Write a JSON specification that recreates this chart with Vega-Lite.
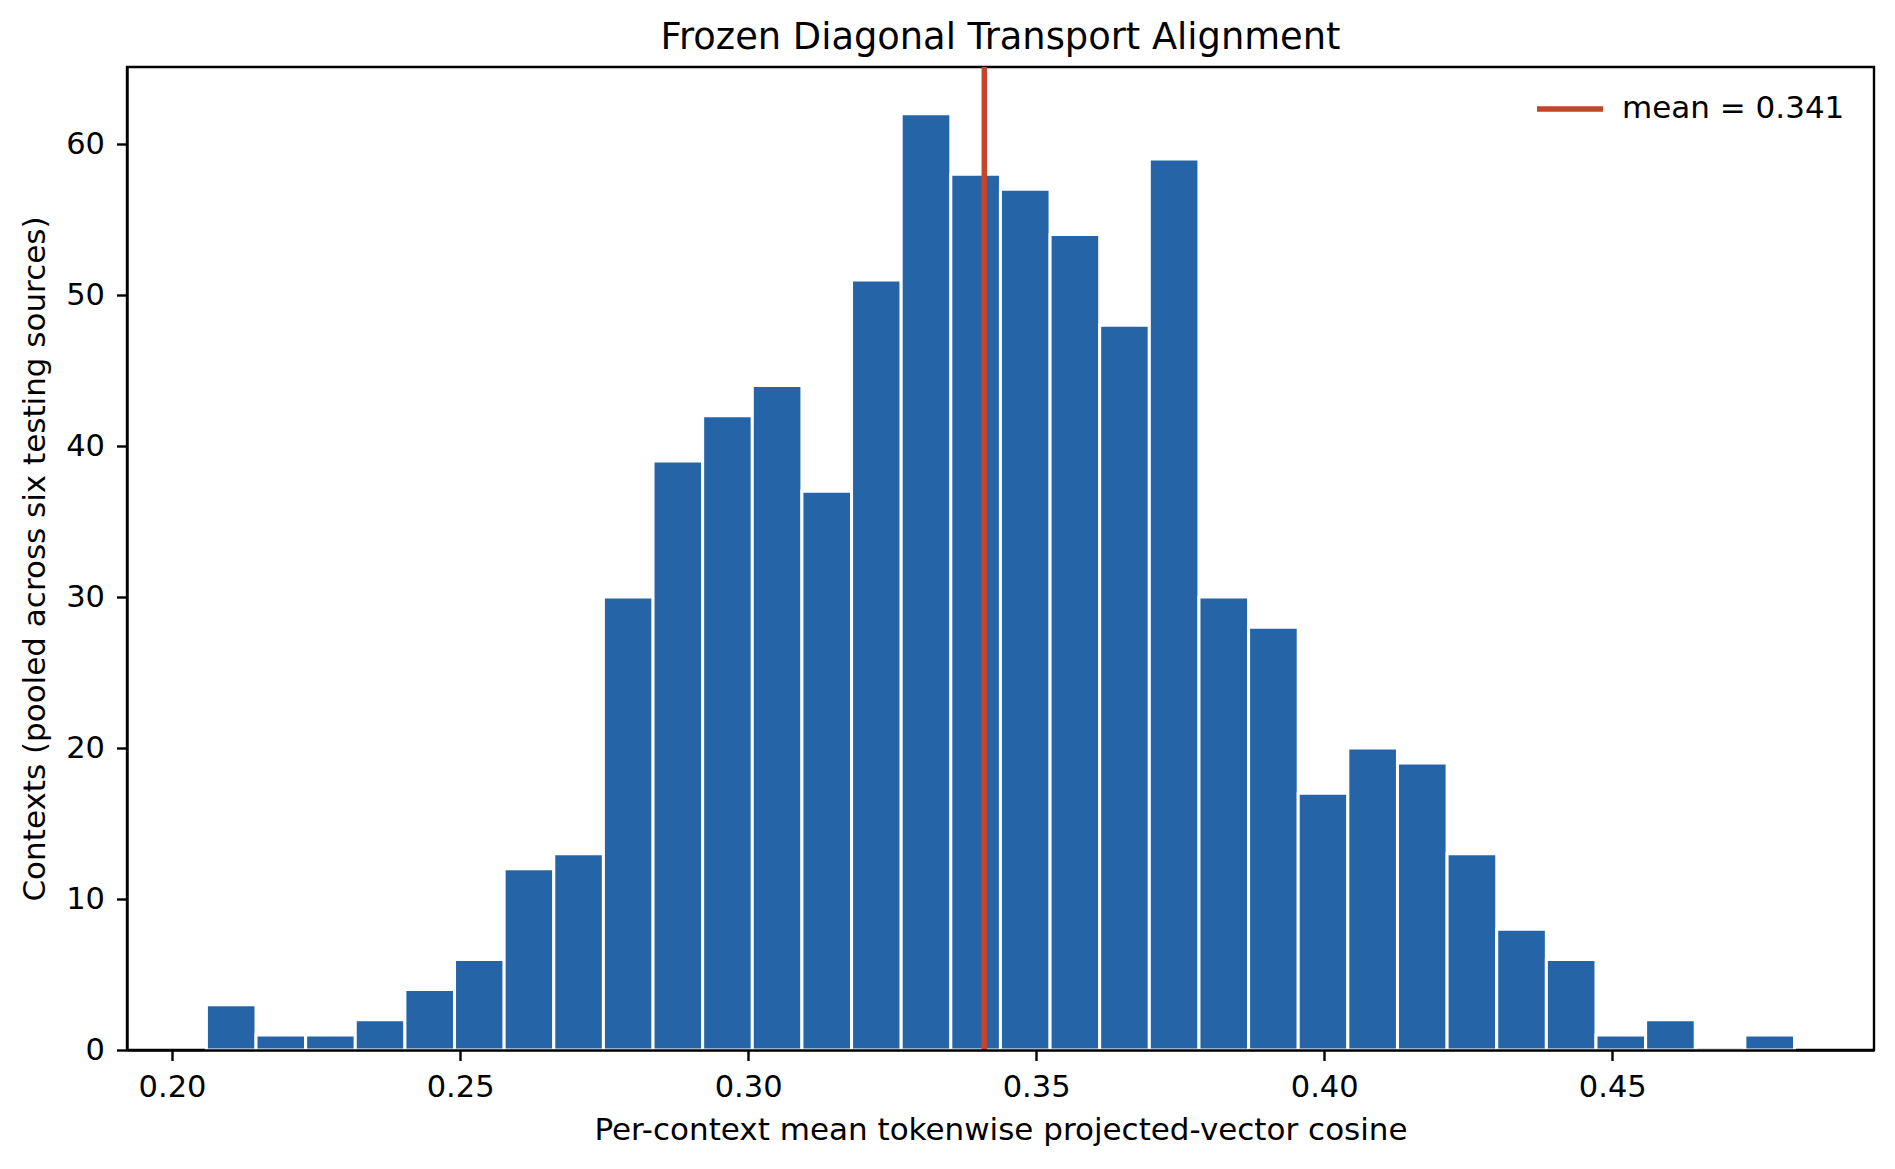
{
  "$schema": "https://vega.github.io/schema/vega-lite/v6.json",
  "width": 1747,
  "height": 983,
  "autosize": {"type": "none"},
  "padding": {"left": 127, "top": 67, "right": 21, "bottom": 119},
  "background": "white",
  "title": {
    "text": "Frozen Diagonal Transport Alignment",
    "fontSize": 36.8,
    "font": "DejaVu Sans",
    "fontWeight": "normal",
    "anchor": "middle",
    "baseline": "alphabetic",
    "offset": -21.5,
    "color": "black"
  },
  "config": {
    "font": "DejaVu Sans",
    "view": {"stroke": "black", "strokeWidth": 2.4}
  },
  "layer": [
    {
      "data": {
        "values": [
          {"bin_start": 0.20596, "bin_end": 0.214575, "count": 3},
          {"bin_start": 0.214575, "bin_end": 0.22319, "count": 1},
          {"bin_start": 0.22319, "bin_end": 0.231805, "count": 1},
          {"bin_start": 0.231805, "bin_end": 0.24042, "count": 2},
          {"bin_start": 0.24042, "bin_end": 0.249035, "count": 4},
          {"bin_start": 0.249035, "bin_end": 0.25765, "count": 6},
          {"bin_start": 0.25765, "bin_end": 0.266265, "count": 12},
          {"bin_start": 0.266265, "bin_end": 0.27488, "count": 13},
          {"bin_start": 0.27488, "bin_end": 0.283495, "count": 30},
          {"bin_start": 0.283495, "bin_end": 0.29211, "count": 39},
          {"bin_start": 0.29211, "bin_end": 0.300725, "count": 42},
          {"bin_start": 0.300725, "bin_end": 0.30934, "count": 44},
          {"bin_start": 0.30934, "bin_end": 0.317955, "count": 37},
          {"bin_start": 0.317955, "bin_end": 0.32657, "count": 51},
          {"bin_start": 0.32657, "bin_end": 0.335185, "count": 62},
          {"bin_start": 0.335185, "bin_end": 0.3438, "count": 58},
          {"bin_start": 0.3438, "bin_end": 0.352415, "count": 57},
          {"bin_start": 0.352415, "bin_end": 0.36103, "count": 54},
          {"bin_start": 0.36103, "bin_end": 0.369645, "count": 48},
          {"bin_start": 0.369645, "bin_end": 0.37826, "count": 59},
          {"bin_start": 0.37826, "bin_end": 0.386875, "count": 30},
          {"bin_start": 0.386875, "bin_end": 0.39549, "count": 28},
          {"bin_start": 0.39549, "bin_end": 0.404105, "count": 17},
          {"bin_start": 0.404105, "bin_end": 0.41272, "count": 20},
          {"bin_start": 0.41272, "bin_end": 0.421335, "count": 19},
          {"bin_start": 0.421335, "bin_end": 0.42995, "count": 13},
          {"bin_start": 0.42995, "bin_end": 0.438565, "count": 8},
          {"bin_start": 0.438565, "bin_end": 0.44718, "count": 6},
          {"bin_start": 0.44718, "bin_end": 0.455795, "count": 1},
          {"bin_start": 0.455795, "bin_end": 0.46441, "count": 2},
          {"bin_start": 0.46441, "bin_end": 0.473025, "count": 0},
          {"bin_start": 0.473025, "bin_end": 0.48164, "count": 1}
        ]
      },
      "mark": {"type": "rect", "color": "#2664A8", "stroke": "white", "strokeWidth": 3},
      "encoding": {
        "x": {
          "field": "bin_start",
          "type": "quantitative",
          "scale": {"domain": [0.19218, 0.49544], "nice": false, "zero": false},
          "axis": {
            "title": "Per-context mean tokenwise projected-vector cosine",
            "values": [0.2, 0.25, 0.3, 0.35, 0.4, 0.45],
            "format": ".2f",
            "zindex": 1,
            "domain": true,
            "domainColor": "black",
            "domainWidth": 2.4,
            "grid": false,
            "tickSize": 10.5,
            "tickWidth": 2.4,
            "tickColor": "black",
            "labelFontSize": 30.5,
            "labelColor": "black",
            "labelPadding": 12,
            "labelFlush": false,
            "labelOverlap": false,
            "titleFontSize": 31,
            "titleFontWeight": "normal",
            "titleColor": "black",
            "titleBaseline": "alphabetic",
            "titleY": 89
          }
        },
        "x2": {"field": "bin_end"},
        "y": {
          "field": "count",
          "type": "quantitative",
          "scale": {"domain": [0, 65.1], "nice": false},
          "axis": {
            "title": "Contexts (pooled across six testing sources)",
            "values": [0, 10, 20, 30, 40, 50, 60],
            "zindex": 1,
            "domain": true,
            "domainColor": "black",
            "domainWidth": 2.4,
            "grid": false,
            "tickSize": 10.5,
            "tickWidth": 2.4,
            "tickColor": "black",
            "labelFontSize": 30.5,
            "labelColor": "black",
            "labelPadding": 12,
            "labelFlush": false,
            "labelOverlap": false,
            "titleFontSize": 31,
            "titleFontWeight": "normal",
            "titleColor": "black",
            "titleBaseline": "alphabetic",
            "titleX": -83
          }
        },
        "y2": {"datum": 0}
      }
    },
    {
      "data": {"values": [{"mean": 0.341, "label": "mean = 0.341"}]},
      "mark": {"type": "rule", "strokeWidth": 5.5},
      "encoding": {
        "x": {"field": "mean", "type": "quantitative"},
        "color": {
          "field": "label",
          "type": "nominal",
          "scale": {"range": ["#C4452A"]},
          "legend": {
            "title": null,
            "orient": "none",
            "legendX": 1407,
            "legendY": 6,
            "padding": 0,
            "symbolType": "stroke",
            "symbolSize": 4356,
            "symbolStrokeWidth": 5.5,
            "labelFontSize": 31,
            "labelColor": "black",
            "labelOffset": 16,
            "labelLimit": 500
          }
        }
      }
    }
  ]
}
